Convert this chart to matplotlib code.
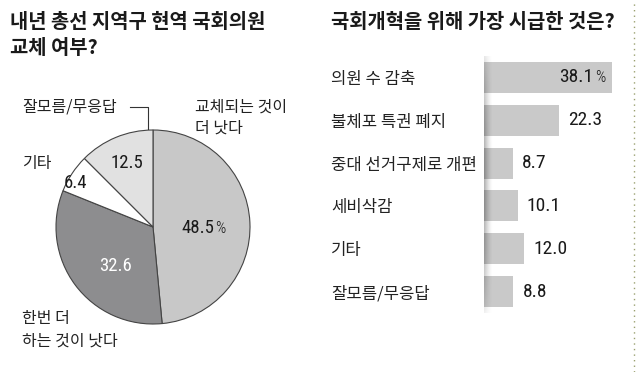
import numpy as np
import matplotlib
matplotlib.use("Agg")
import matplotlib.pyplot as plt
from matplotlib.lines import Line2D

plt.rcParams['font.family'] = ['Noto Sans CJK KR', 'DejaVu Sans']
NUM_FONT = ['Roboto Condensed', 'Noto Sans CJK KR']

# Pie data (clockwise from 12 o'clock)
pie_values = [48.5, 32.6, 6.4, 12.5]
pie_labels = ["48.5", "32.6", "6.4", "12.5"]
pie_colors = ["#c8c8c8", "#8d8d8f", "#ffffff", "#e1e1e1"]

# Bar data
bar_cats = ["의원 수 감축", "불체포 특권 폐지", "중대 선거구제로 개편", "세비삭감", "기타", "잘모름/무응답"]
bar_values = [38.1, 22.3, 8.7, 10.1, 12.0, 8.8]
bar_labels = ["38.1", "22.3", "8.7", "10.1", "12.0", "8.8"]

W, H = 636, 372
fig = plt.figure(figsize=(W / 100, H / 100), dpi=100)


def px_axes(left, top, width, height):
    return fig.add_axes([left / W, 1 - (top + height) / H, width / W, height / H])


# ---------- left: pie ----------
fig.text(10 / W, 1 - 22 / H, "내년 총선 지역구 현역 국회의원", fontsize=14.3,
         fontweight='bold', va='center', ha='left', color='#1a1a1a')
fig.text(10 / W, 1 - 47 / H, "교체 여부?", fontsize=14.3,
         fontweight='bold', va='center', ha='left', color='#1a1a1a')

cx, cy, r = 153, 227, 97
pax = px_axes(cx - r, cy - r, 2 * r, 2 * r)
wedges, _ = pax.pie(pie_values, colors=pie_colors, startangle=90, counterclock=False,
                    radius=1, wedgeprops=dict(edgecolor='#444444', linewidth=0.8))
pax.set_xlim(-1, 1)
pax.set_ylim(-1, 1)
pax.set_aspect('equal')
pax.axis('off')

# slice value labels (position in pie radius units)
label_xy = [(0.46, -0.01), (-0.39, -0.40), (-0.80, 0.45), (-0.27, 0.66)]
txt_colors = ["#1a1a1a", "#ffffff", "#1a1a1a", "#1a1a1a"]
for lab, (x, y), tc in zip(pie_labels, label_xy, txt_colors):
    t = pax.text(x, y, lab, fontsize=13.5, family=NUM_FONT, ha='center', va='center', color=tc)
    if lab == "48.5":
        pax.annotate("%", xy=(1, 0.5), xycoords=t, xytext=(1, -0.5), textcoords='offset points',
                     fontsize=11.5, family=NUM_FONT, fontweight='light', ha='left', va='center',
                     color=tc)

# category labels
lab_kw = dict(fontsize=11.5, va='center', ha='left', color='#222222')
fig.text(22 / W, 1 - 107 / H, "잘모름/무응답", **lab_kw)
fig.text(22 / W, 1 - 163 / H, "기타", **lab_kw)
fig.text(195 / W, 1 - 107 / H, "교체되는 것이", **lab_kw)
fig.text(195 / W, 1 - 128 / H, "더 낫다", **lab_kw)
fig.text(22 / W, 1 - 319 / H, "한번 더", **lab_kw)
fig.text(22 / W, 1 - 341 / H, "하는 것이 낫다", **lab_kw)

# leader line for 잘모름/무응답
fig.add_artist(Line2D([130 / W, 148 / W, 148 / W], [1 - 107 / H, 1 - 107 / H, 1 - 129 / H],
                      color='#333333', linewidth=0.8))

# ---------- right: bars ----------
fig.text(331 / W, 1 - 22 / H, "국회개혁을 위해 가장 시급한 것은?", fontsize=14.3,
         fontweight='bold', va='center', ha='left', color='#1a1a1a')

scale = 3.35  # px per unit
bx_left, bx_w = 484, 148
bax = px_axes(bx_left, 56, bx_w, 257)
y = np.arange(len(bar_values))
bax.barh(y, bar_values, height=0.72, color="#c9c9c9", zorder=2)
bax.set_xlim(0, bx_w / scale)
bax.set_ylim(5.5, -0.5)
for s in bax.spines.values():
    s.set_visible(False)
bax.set_xticks([])
bax.set_yticks(y)
bax.set_yticklabels(bar_cats, fontsize=12, color='#222222', ha='left')
bax.tick_params(axis='y', length=0, pad=(bx_left - 331) * 0.72)

for i, (v, lab) in enumerate(zip(bar_values, bar_labels)):
    if i == 0:
        t = bax.text(v - 2.0, i, "%", fontsize=11.5, family=NUM_FONT, fontweight='light',
                     ha='right', va='center', color='#1a1a1a', zorder=4)
        bax.annotate(lab, xy=(0, 0.5), xycoords=t, xytext=(-1, 0.5), textcoords='offset points',
                     fontsize=14, family=NUM_FONT, ha='right', va='center', color='#1a1a1a', zorder=4)
    else:
        bax.text(v + 2.7, i, lab, fontsize=14, family=NUM_FONT, ha='left', va='center',
                 color='#1a1a1a')

# soft shadow at bar baseline
nx, ny = 40, 200
gx = np.linspace(1, 0, nx) ** 1.5
gy = np.sin(np.linspace(0, np.pi, ny)) ** 0.6
rgba = np.zeros((ny, nx, 4))
rgba[..., 3] = 0.32 * gy[:, None] * gx[None, :]
bax.imshow(rgba, extent=[0, 9 / scale, 5.65, -0.8], aspect='auto', zorder=3,
           interpolation='bilinear')
bax.set_xlim(0, bx_w / scale)
bax.set_ylim(5.5, -0.5)

# dotted separator at right edge
fig.add_artist(Line2D([634 / W, 634 / W], [0, 1], color='#9aa070', linewidth=1.0,
                      linestyle=(0, (1, 3))))

fig.savefig("out.png", dpi=100)
